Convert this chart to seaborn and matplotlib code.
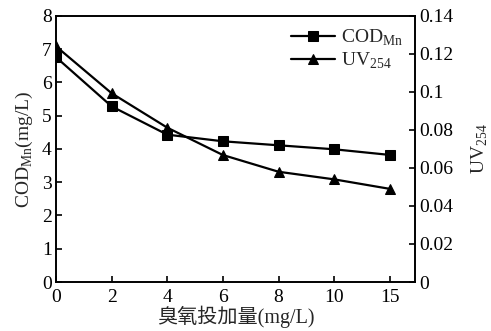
import matplotlib
matplotlib.use("Agg")
import matplotlib.pyplot as plt
import seaborn as sns
import pandas as pd

dose_labels = ["0", "2", "4", "6", "8", "10", "15"]
cod_mn = [6.76, 5.28, 4.43, 4.23, 4.11, 3.99, 3.82]
uv254 = [0.124, 0.0993, 0.0812, 0.0668, 0.058, 0.054, 0.049]

sns.set_theme(style="ticks")
plt.rcParams['font.family'] = ['Liberation Serif', 'Noto Sans CJK SC']
plt.rcParams['mathtext.fontset'] = 'custom'
plt.rcParams['mathtext.rm'] = 'Liberation Serif'
plt.rcParams['font.size'] = 14

df = pd.DataFrame({"pos": list(range(len(dose_labels))), "cod": cod_mn, "uv": uv254})

fig = plt.figure(figsize=(4.91, 3.31), dpi=100)
ax = fig.add_axes([0.114, 0.148, 0.731, 0.804])
ax2 = ax.twinx()

sns.lineplot(data=df, x="pos", y="cod", ax=ax, color="black", marker="s", markersize=7,
             linewidth=1.6, markeredgecolor="black", label=r"COD$_{\mathrm{Mn}}$", legend=False)
sns.lineplot(data=df, x="pos", y="uv", ax=ax2, color="black", marker="^", markersize=7,
             linewidth=1.6, markeredgecolor="black", label=r"UV$_{254}$", legend=False)

ax.set_xlim(0, 6.45)
ax.set_ylim(0, 8)
ax2.set_ylim(0, 0.14)
ax.set_xticks(range(len(dose_labels)))
ax.set_xticklabels(dose_labels)
ax.set_yticks(range(0, 9))
ax2.set_yticks([0, 0.02, 0.04, 0.06, 0.08, 0.1, 0.12, 0.14])
ax2.set_yticklabels(["0", "0.02", "0.04", "0.06", "0.08", "0.1", "0.12", "0.14"])

for a in (ax, ax2):
    a.tick_params(direction="in", length=4, width=1.2, labelsize=14, colors="black", pad=3)
    for s in a.spines.values():
        s.set_linewidth(1.2)
        s.set_color("black")
        s.set_visible(True)
ax.tick_params(axis="x", pad=5)

ax.set_xlabel("臭氧投加量(mg/L)", fontsize=14.5, labelpad=0)
ax.set_ylabel(r"COD$_{\mathrm{Mn}}$(mg/L)", fontsize=14, labelpad=5)
ax2.set_ylabel(r"UV$_{254}$", fontsize=14, labelpad=12)

h1, l1 = ax.get_legend_handles_labels()
h2, l2 = ax2.get_legend_handles_labels()
ax2.legend(h1 + h2, l1 + l2, loc="upper right", frameon=False, fontsize=14,
           handlelength=2.3, handletextpad=0.3, borderaxespad=0.2, labelspacing=0.15)

fig.savefig("out.png", dpi=100)
